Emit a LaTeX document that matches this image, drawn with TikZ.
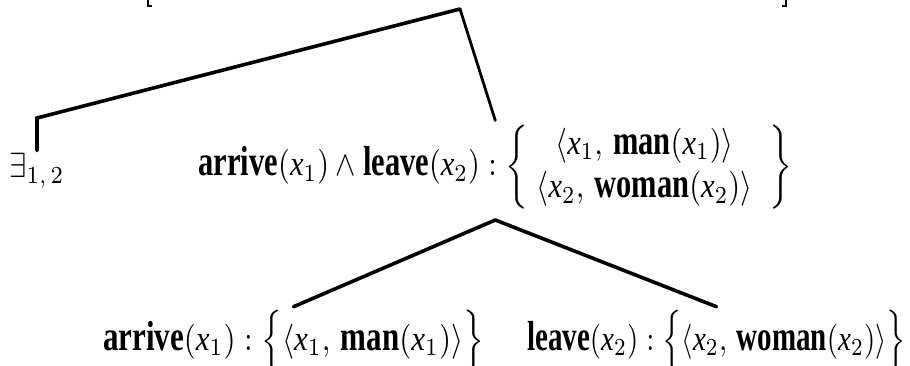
\documentclass[tikz,border=0pt]{standalone}
\usepackage{amsmath}
\usepackage{fontspec}
\setmainfont{Liberation Serif}
\newcommand\xv[1]{\mbox{\itshape x}_{#1}}
\newcommand\bw[1]{\mbox{\scalebox{1}[1.2]{\bfseries #1}}}
\newcommand\sz[2][3.0]{\scalebox{#1}[3.5]{#2}}
\begin{document}
\begin{tikzpicture}[x=1pt,y=1pt,
  lbl/.style={inner sep=0pt, outer sep=3pt, font=\fontsize{10}{12.5}\selectfont},
  branch/.style={line width=3.6pt, line cap=round, line join=miter},
  thinbranch/.style={line width=2.8pt, line cap=round},
  frag/.style={line width=2.4pt}]
\useasboundingbox (0,0) rectangle (910,-366);
\coordinate (top) at (460,-9);
\node[lbl, anchor=base] (ex) at (37,-178) {\sz[3.1]{$\exists_{1,\,2}$}};
\coordinate (elbow) at (ex.north |- 0,-118);
\node[lbl, anchor=base east] (mid) at (795,-176) {\sz[3.05]{$\bw{arrive}(\xv1) \wedge \bw{leave}(\xv2) : \left\{\begin{array}{@{\;}c@{\;\;}} \langle \xv1,\, \bw{man}(\xv1)\rangle \\ \langle \xv2,\, \bw{woman}(\xv2)\rangle \end{array}\right\}$}};
\coordinate (fork) at ([yshift=-6pt]mid.south);
\node[lbl, anchor=base west] (bl) at (100,-350) {\sz[3.1]{$\bw{arrive}(\xv1) : \Bigl\{\langle \xv1,\, \bw{man}(\xv1)\rangle\Bigr\}$}};
\node[lbl, anchor=base east] (br) at (909,-350) {\sz[2.9]{$\bw{leave}(\xv2) : \Bigl\{\langle \xv2,\, \bw{woman}(\xv2)\rangle\Bigr\}$}};
\draw[branch] (top) -- (elbow) -- (ex.north);
\draw[thinbranch] (top) -- (mid.north);
\draw[branch] (fork) -- (bl.north);
\draw[branch] (fork) -- (br.north);
\draw[frag] (148,1) -- (148,-6) -- (152,-6);
\draw[frag] (786,1) -- (786,-6) -- (782,-6);
\end{tikzpicture}
\end{document}
